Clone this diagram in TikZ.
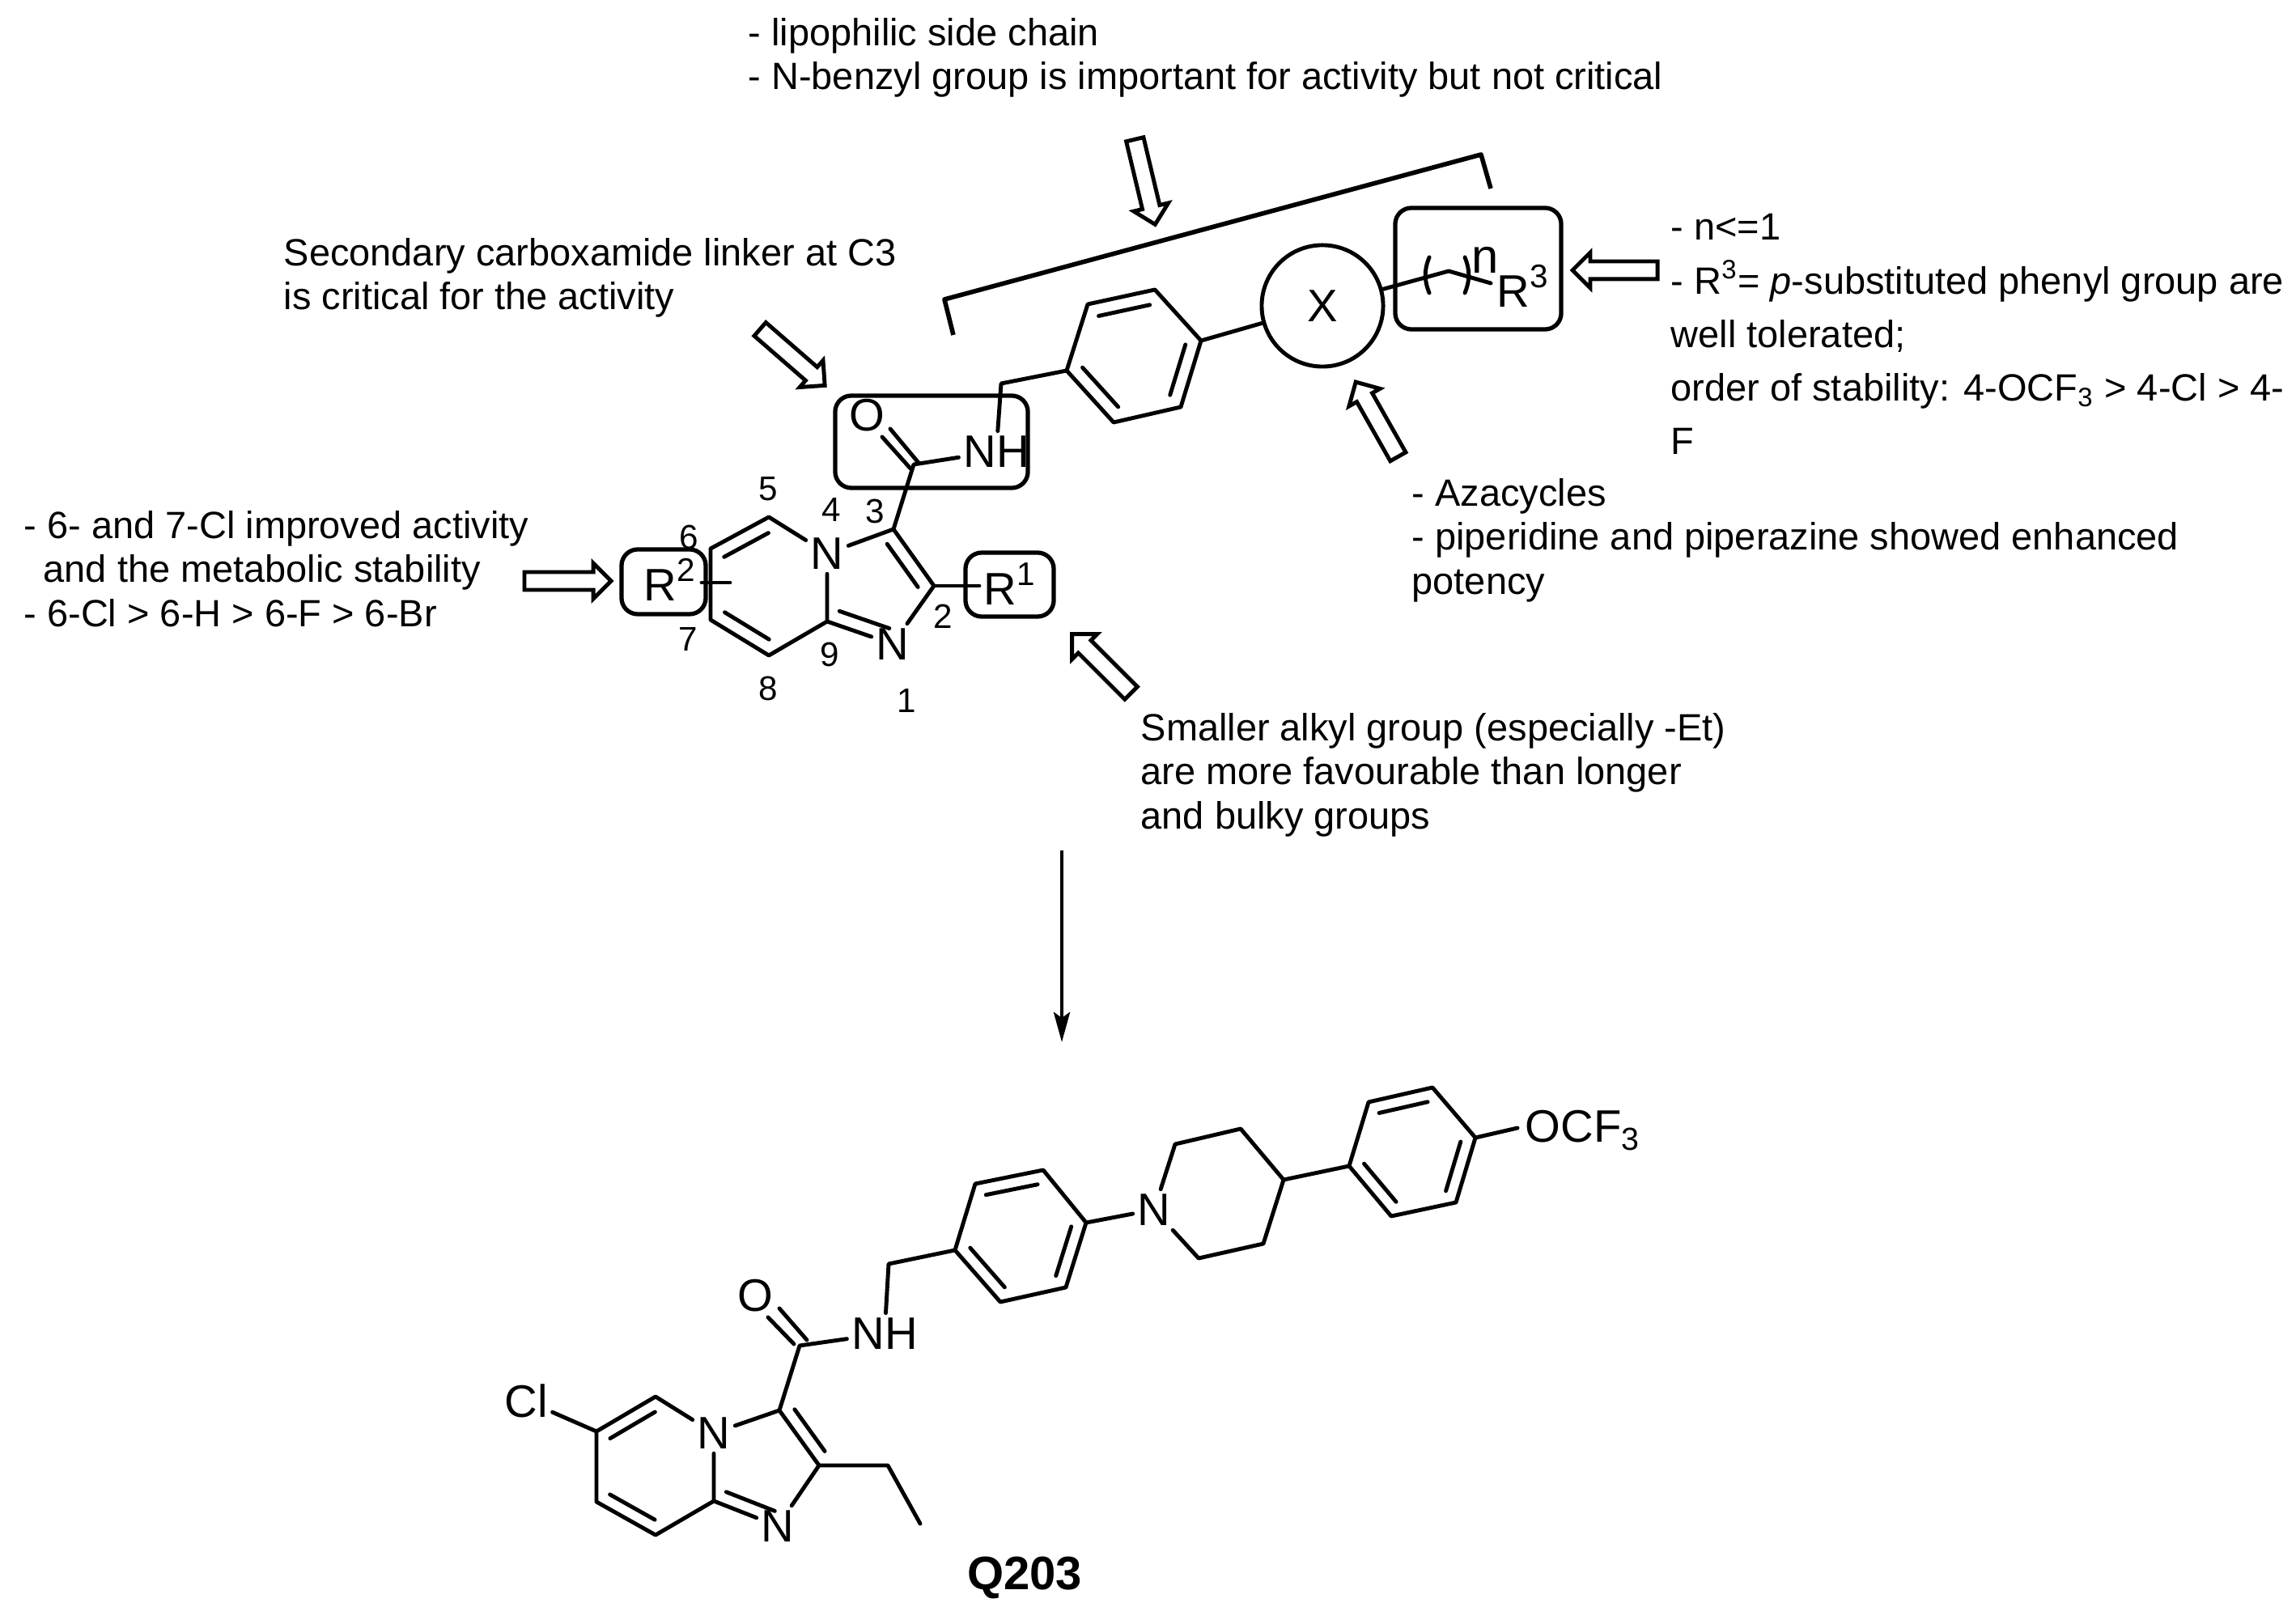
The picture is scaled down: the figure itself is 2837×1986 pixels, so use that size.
\documentclass[tikz,border=0pt]{standalone}
\usepackage{fontspec}
\setmainfont{Liberation Sans}
\usetikzlibrary{arrows.meta,calc,shapes.arrows}
\tikzset{bond/.style={line width=1.4pt,line cap=round,line join=round}}
\tikzset{atom/.style={font=\fontsize{16}{18}\selectfont,inner sep=1.5pt}}
\tikzset{rgrp/.style={atom,inner sep=0pt,anchor=base west}}
\tikzset{rbox/.style={draw,line width=1.5pt,rounded corners=0.2cm,inner sep=0pt}}
\tikzset{posno/.style={font=\fontsize{12}{14}\selectfont,inner sep=0pt}}
\tikzset{note/.style={font=\fontsize{13.35}{15.4}\selectfont,anchor=north west,align=left,inner sep=0pt}}
\tikzset{fatarrow/.style={single arrow,draw,line width=1.4pt,inner sep=0.085cm,
  single arrow head extend=0.11cm,minimum height=3cm,single arrow tip angle=90}}
\newcommand{\innerbond}[3]{\draw[bond] ($(#1)!.12!(#2)!#3!90:(#2)$) -- ($(#1)!.88!(#2)!#3!90:(#2)$);}
\newcommand{\rlabel}[1]{R\raisebox{0.24cm}{\fontsize{11.5}{12}\selectfont #1}}
\begin{document}
\begin{tikzpicture}[x=0.01cm,y=-0.01cm]
\useasboundingbox (0,0) rectangle (2837,1986);
% notes
\node[note] (notetop) at (924,22) {- lipophilic side chain\\- N-benzyl group is important for activity but not critical};
\node[note] (notelink) at (350,294) {Secondary carboxamide linker at C3\\is critical for the activity};
\node[note] (noteleft) at (29,631) {- 6- and 7-Cl improved activity\\\hspace*{0.24cm}and the metabolic stability\\- 6-Cl > 6-H > 6-F > 6-Br};
\node[note] (notealkyl) at (1409,881) {Smaller alkyl group (especially -Et)\\are more favourable than longer\\and bulky groups};
\node[note] (noteaza) at (1744,591) {- Azacycles\\- piperidine and piperazine showed enhanced\\potency};
\node[note,font=\fontsize{13.35}{18.8}\selectfont] (noteright) at (2064,264) {- n<=1\\- R\textsuperscript{3}= \textit{p}-substituted phenyl group are\\well tolerated;\\order of stability: 4-OCF\textsubscript{3} > 4-Cl > 4-\\F};
% block arrows
\node[fatarrow,minimum height=1.08cm,rotate=-76.6] (arrowtop) at (1413.5,219.5) {};
\node[fatarrow,minimum height=1.06cm,rotate=-41] (arrowlink) at (975,438) {};
\node[fatarrow,minimum height=1.06cm,rotate=119.5] (arrowaza) at (1704,523) {};
\node[fatarrow,minimum height=1.03cm,rotate=135] (arrowalkyl) at (1365,824) {};
\node[fatarrow,minimum height=1.05cm,rotate=180] (arrowright) at (2001,334) {};
\node[fatarrow,minimum height=1.07cm] (arrowleft) at (696,718) {};
% bracket
\coordinate (brA) at (1178,414);
\coordinate (brB) at (1167,370);
\coordinate (brC) at (1830,191);
\coordinate (brD) at (1842,233);
\draw[bond,line width=1.6pt,line cap=butt] (brA) -- (brB) -- (brC) -- (brD);
% boxes
\node[rbox,minimum width=2.38cm,minimum height=1.14cm] (boxamide) at (1151,546) {};
\node[rbox,minimum width=1.04cm,minimum height=0.80cm] (boxtwo) at (820,719) {};
\node[rbox,minimum width=1.09cm,minimum height=0.79cm] (boxone) at (1247.5,722.5) {};
\node[rbox,minimum width=2.05cm,minimum height=1.50cm] (boxthree) at (1826.5,332) {};
\node[draw,circle,line width=1.4pt,minimum size=1.5cm,inner sep=0pt,atom] (ringx) at (1634,378) {X};
% scaffold atoms
\foreach \name/\pos in {cthree/{1104,654},ctwo/{1154,724},cnine/{1022,768},cfive/{950,639},csix/{878,678},cseven/{878,766},ceight/{950,810},cco/{1129,574},cmeth/{1237,474},
  ba/{1344,376},bb/{1427,358},bc/{1484,421},bd/{1459,503},be/{1376,522},bf/{1318,458},
  link/{1790,335},linkend/{1842,350},rtwoa/{867,720},rtwob/{902,720},roneend/{1210,724}}
  \coordinate (\name) at (\pos);
\node[atom] (nfour) at (1022,684) {N};
\node[atom] (none) at (1103,796) {N};
\node[atom] (oxo) at (1071,513) {O};
\node[atom] (nh) at (1231,558) {NH};
\node[rgrp] (rtwo) at (795,743) {\rlabel{2}};
\node[rgrp] (rone) at (1215,748) {\rlabel{1}};
\node[rgrp] (rthree) at (1849,380) {\rlabel{3}};
\node[atom,inner sep=0pt,anchor=base west,font=\fontsize{17}{18}\selectfont] (nlabel) at (1818,338) {n};
% scaffold bonds
\draw[bond] (nfour) -- (cfive) -- (csix) -- (cseven) -- (ceight) -- (cnine) -- (nfour);
\draw[bond] (nfour) -- (cthree) -- (ctwo) -- (none) -- (cnine);
\draw[bond] (ctwo) -- (roneend);
\draw[bond] (rtwoa) -- (rtwob);
\draw[bond] (cthree) -- (cco) -- (nh);
\draw[bond] (nh) -- (cmeth) -- (bf) -- (ba) -- (bb) -- (bc) -- (bd) -- (be) -- (bf);
\draw[bond] (bc) -- (ringx) -- (link) -- (linkend);
\innerbond{ctwo}{cthree}{0.17cm}
\innerbond{csix}{cfive}{-0.17cm}
\innerbond{cseven}{ceight}{0.17cm}
\innerbond{cnine}{none}{0.17cm}
\innerbond{ba}{bb}{-0.17cm}
\innerbond{bf}{be}{0.17cm}
\innerbond{bd}{bc}{0.17cm}
\coordinate (cob) at (1100,530);
\coordinate (coc) at (1135,572);
\coordinate (cod) at (1090,540);
\coordinate (coe) at (1125,579);
\draw[bond] (cob) -- (coc) (cod) -- (coe);
\coordinate (pla) at (1766,318);
\coordinate (plb) at (1766,362);
\coordinate (pra) at (1810,318);
\coordinate (prb) at (1810,362);
\draw[bond] (pla) to[bend right=22] (plb) (pra) to[bend left=22] (prb);
% position numbers
\foreach \no/\pos in {1/{1120,866},2/{1165,762},3/{1081,632},4/{1027,630},5/{949,604},6/{851,664},7/{850,790},8/{949,851},9/{1025,809}}
  \node[posno] (pos\no) at (\pos) {\no};
% main arrow
\coordinate (mainA) at (1312,1051);
\coordinate (mainB) at (1312,1288);
\draw[line width=1.4pt,-{Stealth[length=0.37cm,width=0.2cm,inset=0.07cm]}] (mainA) -- (mainB);
% Q203 atoms
\foreach \name/\pos in {qsix/{737,1769},qfive/{810,1726},qnine/{882,1855},qeight/{810,1897},qseven/{737,1856},qtwo/{1012,1811},qthree/{963,1743},qeta/{1097,1811},qetb/{1137,1883},qco/{988,1663},qmeth/{1098,1562},
  ka/{1180,1545},kb/{1205,1463},kc/{1289,1446},kd/{1342,1511},ke/{1317,1591},kf/{1236,1609},
  pa/{1452,1414},pb/{1533,1395},pc/{1586,1458},pd/{1561,1537},pe/{1481,1555},
  ma/{1667,1441},mb/{1691,1362},mc/{1770,1344},md/{1823,1406},me/{1799,1486},mf/{1719,1503},
  qcoa/{949,1628},qcob/{981,1661},qcoc/{963,1617},qcod/{997,1656},qoend/{1875,1394}}
  \coordinate (\name) at (\pos);
\node[atom] (qcl) at (650,1731) {Cl};
\node[atom] (qnf) at (882,1771) {N};
\node[atom] (qno) at (961,1886) {N};
\node[atom] (qox) at (933,1601) {O};
\node[atom] (qnh) at (1093,1648) {NH};
\node[atom] (qpn) at (1426,1495) {N};
\node[atom,anchor=west,inner sep=0pt] (qocf) at (1884,1397) {OCF\textsubscript{3}};
\node[atom,font=\fontsize{16.5}{18}\selectfont\bfseries] (qname) at (1266,1950) {Q203};
% Q203 bonds
\draw[bond] (qcl) -- (qsix) -- (qfive) -- (qnf) -- (qnine) -- (qeight) -- (qseven) -- (qsix);
\draw[bond] (qnf) -- (qthree) -- (qtwo) -- (qno) -- (qnine);
\draw[bond] (qtwo) -- (qeta) -- (qetb);
\draw[bond] (qthree) -- (qco) -- (qnh) -- (qmeth) -- (ka) -- (kb) -- (kc) -- (kd) -- (ke) -- (kf) -- (ka);
\draw[bond] (kd) -- (qpn) -- (pa) -- (pb) -- (pc) -- (pd) -- (pe) -- (qpn);
\draw[bond] (pc) -- (ma) -- (mb) -- (mc) -- (md) -- (me) -- (mf) -- (ma);
\draw[bond] (md) -- (qoend);
\draw[bond] (qcoa) -- (qcob) (qcoc) -- (qcod);
\innerbond{qsix}{qfive}{-0.16cm}
\innerbond{qseven}{qeight}{0.16cm}
\innerbond{qnine}{qno}{0.16cm}
\innerbond{qtwo}{qthree}{-0.16cm}
\innerbond{kb}{kc}{-0.16cm}
\innerbond{ka}{kf}{0.16cm}
\innerbond{ke}{kd}{0.16cm}
\innerbond{mb}{mc}{-0.16cm}
\innerbond{ma}{mf}{0.16cm}
\innerbond{me}{md}{0.16cm}
\end{tikzpicture}
\end{document}
